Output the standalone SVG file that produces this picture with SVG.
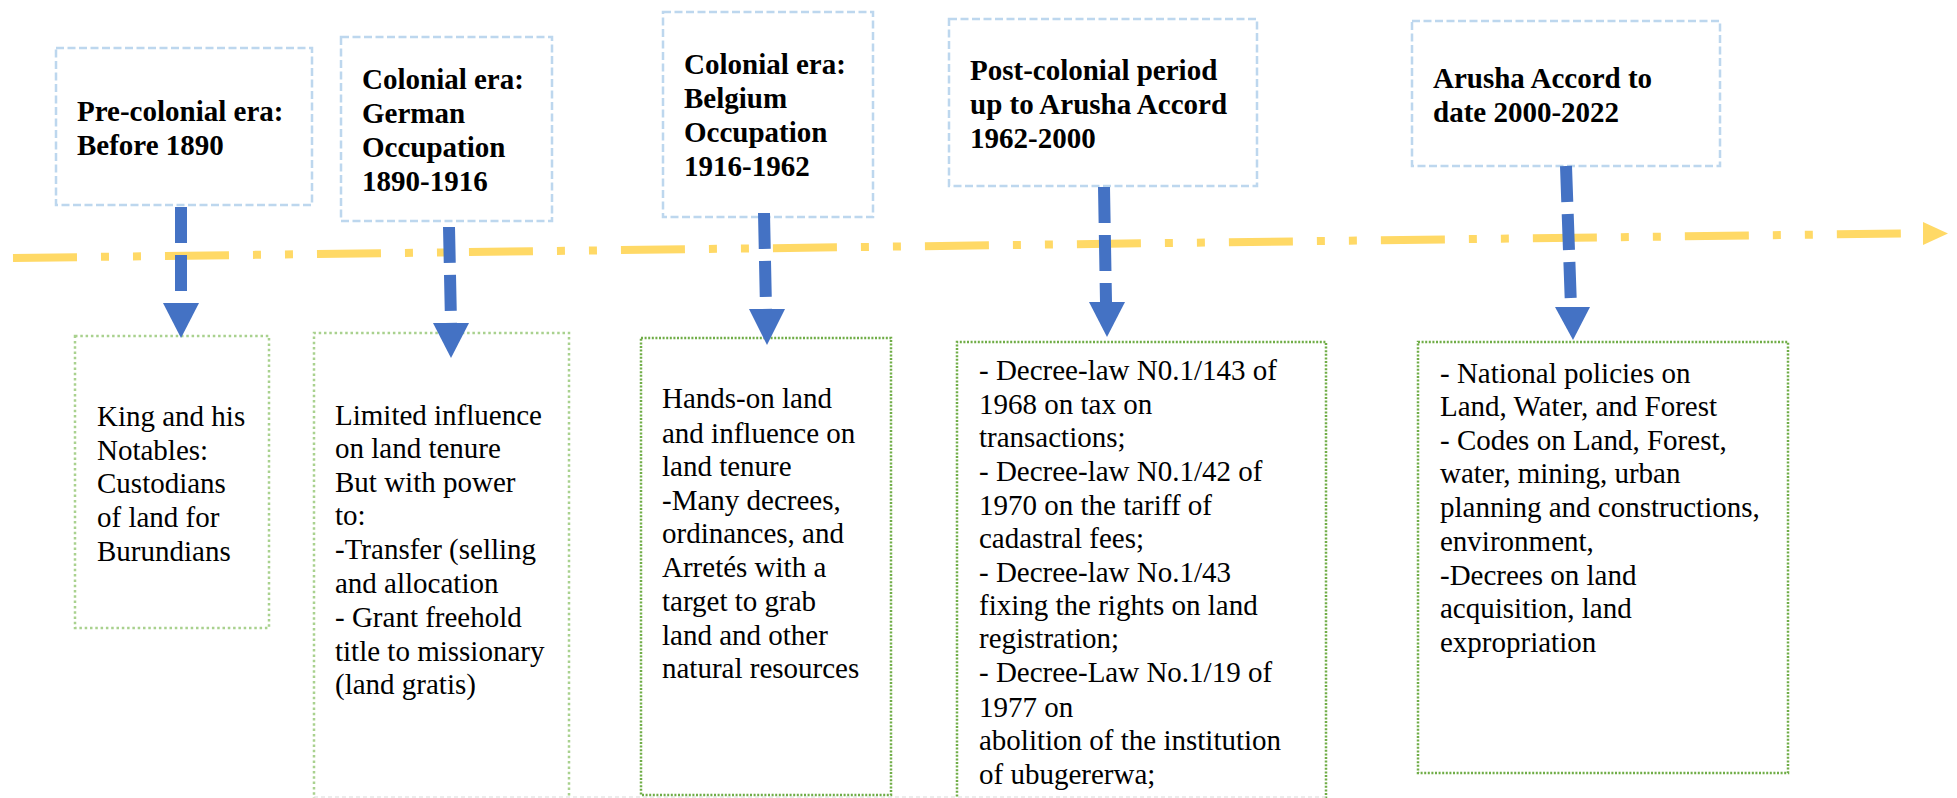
<svg xmlns="http://www.w3.org/2000/svg" width="1957" height="798" viewBox="0 0 1957 798">
  <style>
    .bg { fill: #ffffff; }
    .era { fill: #ffffff; stroke: #BDD7EE; stroke-width: 2.5; stroke-dasharray: 8 3.5; }
    .note-light { fill: #ffffff; stroke: #A9D18E; stroke-width: 2.5; stroke-dasharray: 2.5 2.8; }
    .note-dark { fill: #ffffff; stroke: #70AD47; stroke-width: 2.5; stroke-dasharray: 2 1.6; }
    .edge-faint { fill: none; stroke: #D9D9D9; stroke-width: 1; stroke-dasharray: 4 3; }
    .head { font-family: "Liberation Serif", "Times New Roman", serif; font-weight: bold; font-size: 29px; fill: #000000; }
    .body { font-family: "Liberation Serif", "Times New Roman", serif; font-size: 29px; fill: #000000; }
    .timeline { stroke: #FFD966; stroke-width: 8; fill: none; stroke-dasharray: 64 24 8 24 8 24; }
    .timeline-head { fill: #FFD966; }
    .link { stroke: #4472C4; stroke-width: 12; fill: none; stroke-dasharray: 36 12; }
    .link-head { fill: #4472C4; }
  </style>

  <rect class="bg" x="0" y="0" width="1957" height="798"/>

  <!-- timeline axis -->
  <g id="timeline">
    <line class="timeline" x1="13" y1="258" x2="1902" y2="233.5"/>
    <polygon class="timeline-head" points="1923,222 1948,233.5 1923,245"/>
  </g>

  <!-- era headers -->
  <g id="era-precolonial">
    <rect class="era" x="56" y="48" width="256" height="157"/>
    <text class="head" x="77" y="121">Pre-colonial era:</text>
    <text class="head" x="77" y="155">Before 1890</text>
  </g>
  <g id="era-german">
    <rect class="era" x="341" y="37" width="211" height="184"/>
    <text class="head" x="362" y="89">Colonial era:</text>
    <text class="head" x="362" y="123">German</text>
    <text class="head" x="362" y="157">Occupation</text>
    <text class="head" x="362" y="191">1890-1916</text>
  </g>
  <g id="era-belgium">
    <rect class="era" x="663" y="12" width="210" height="205"/>
    <text class="head" x="684" y="74">Colonial era:</text>
    <text class="head" x="684" y="108">Belgium</text>
    <text class="head" x="684" y="142">Occupation</text>
    <text class="head" x="684" y="176">1916-1962</text>
  </g>
  <g id="era-postcolonial">
    <rect class="era" x="949" y="19" width="308" height="167"/>
    <text class="head" x="970" y="80">Post-colonial period</text>
    <text class="head" x="970" y="114">up to Arusha Accord</text>
    <text class="head" x="970" y="148">1962-2000</text>
  </g>
  <g id="era-arusha">
    <rect class="era" x="1412" y="21" width="308" height="145"/>
    <text class="head" x="1433" y="88">Arusha Accord to</text>
    <text class="head" x="1433" y="122">date 2000-2022</text>
  </g>

  <!-- land tenure notes -->
  <g id="note-precolonial">
    <rect class="note-light" x="75" y="336" width="194" height="292"/>
    <text class="body" x="97" y="426">King and his</text>
    <text class="body" x="97" y="460">Notables:</text>
    <text class="body" x="97" y="493">Custodians</text>
    <text class="body" x="97" y="527">of land for</text>
    <text class="body" x="97" y="561">Burundians</text>
  </g>
  <g id="note-german">
    <path class="note-light" d="M314,800 V333 H569 V800"/>
    <text class="body" x="335" y="425">Limited influence</text>
    <text class="body" x="335" y="458">on land tenure</text>
    <text class="body" x="335" y="492">But with power</text>
    <text class="body" x="335" y="525">to:</text>
    <text class="body" x="335" y="559">-Transfer (selling</text>
    <text class="body" x="335" y="593">and allocation</text>
    <text class="body" x="335" y="627">- Grant freehold</text>
    <text class="body" x="335" y="661">title to missionary</text>
    <text class="body" x="335" y="694">(land gratis)</text>
  </g>
  <g id="note-belgium">
    <rect class="note-dark" x="641" y="338" width="250" height="457"/>
    <text class="body" x="662" y="408">Hands-on land</text>
    <text class="body" x="662" y="443">and influence on</text>
    <text class="body" x="662" y="476">land tenure</text>
    <text class="body" x="662" y="510">-Many decrees,</text>
    <text class="body" x="662" y="543">ordinances, and</text>
    <text class="body" x="662" y="577">Arretés with a</text>
    <text class="body" x="662" y="611">target to grab</text>
    <text class="body" x="662" y="645">land and other</text>
    <text class="body" x="662" y="678">natural resources</text>
  </g>
  <g id="note-postcolonial">
    <path class="note-dark" d="M957,800 V342 H1326 V800"/>
    <text class="body" x="979" y="380">- Decree-law N0.1/143 of</text>
    <text class="body" x="979" y="414">1968 on tax on</text>
    <text class="body" x="979" y="447">transactions;</text>
    <text class="body" x="979" y="481">- Decree-law N0.1/42 of</text>
    <text class="body" x="979" y="515">1970 on the tariff of</text>
    <text class="body" x="979" y="548">cadastral fees;</text>
    <text class="body" x="979" y="582">- Decree-law No.1/43</text>
    <text class="body" x="979" y="615">fixing the rights on land</text>
    <text class="body" x="979" y="648">registration;</text>
    <text class="body" x="979" y="682">- Decree-Law No.1/19 of</text>
    <text class="body" x="979" y="717">1977 on</text>
    <text class="body" x="979" y="750">abolition of the institution</text>
    <text class="body" x="979" y="784">of ubugererwa;</text>
  </g>
  <g id="note-arusha">
    <rect class="note-dark" x="1418" y="342" width="370" height="431"/>
    <text class="body" x="1440" y="383">- National policies on</text>
    <text class="body" x="1440" y="416">Land, Water, and Forest</text>
    <text class="body" x="1440" y="450">- Codes on Land, Forest,</text>
    <text class="body" x="1440" y="483">water, mining, urban</text>
    <text class="body" x="1440" y="517">planning and constructions,</text>
    <text class="body" x="1440" y="551">environment,</text>
    <text class="body" x="1440" y="585">-Decrees on land</text>
    <text class="body" x="1440" y="618">acquisition, land</text>
    <text class="body" x="1440" y="652">expropriation</text>
  </g>

  <!-- faint lower page edge -->
  <line class="edge-faint" x1="314" y1="797" x2="1326" y2="797"/>

  <!-- era-to-note connectors -->
  <g id="connectors">
    <line class="link" x1="181" y1="207" x2="181" y2="303"/>
    <polygon class="link-head" points="163,303 199,303 181,338"/>
    <line class="link" x1="449" y1="227" x2="451" y2="323"/>
    <polygon class="link-head" points="433,323 469,323 451,358"/>
    <line class="link" x1="764" y1="213" x2="766" y2="309"/>
    <polygon class="link-head" points="749,309 785,309 767,345"/>
    <line class="link" x1="1104" y1="187" x2="1106" y2="302"/>
    <polygon class="link-head" points="1089,302 1125,302 1107,337"/>
    <line class="link" x1="1566" y1="166" x2="1571" y2="307"/>
    <polygon class="link-head" points="1555,307 1590,307 1573,340"/>
  </g>
</svg>
